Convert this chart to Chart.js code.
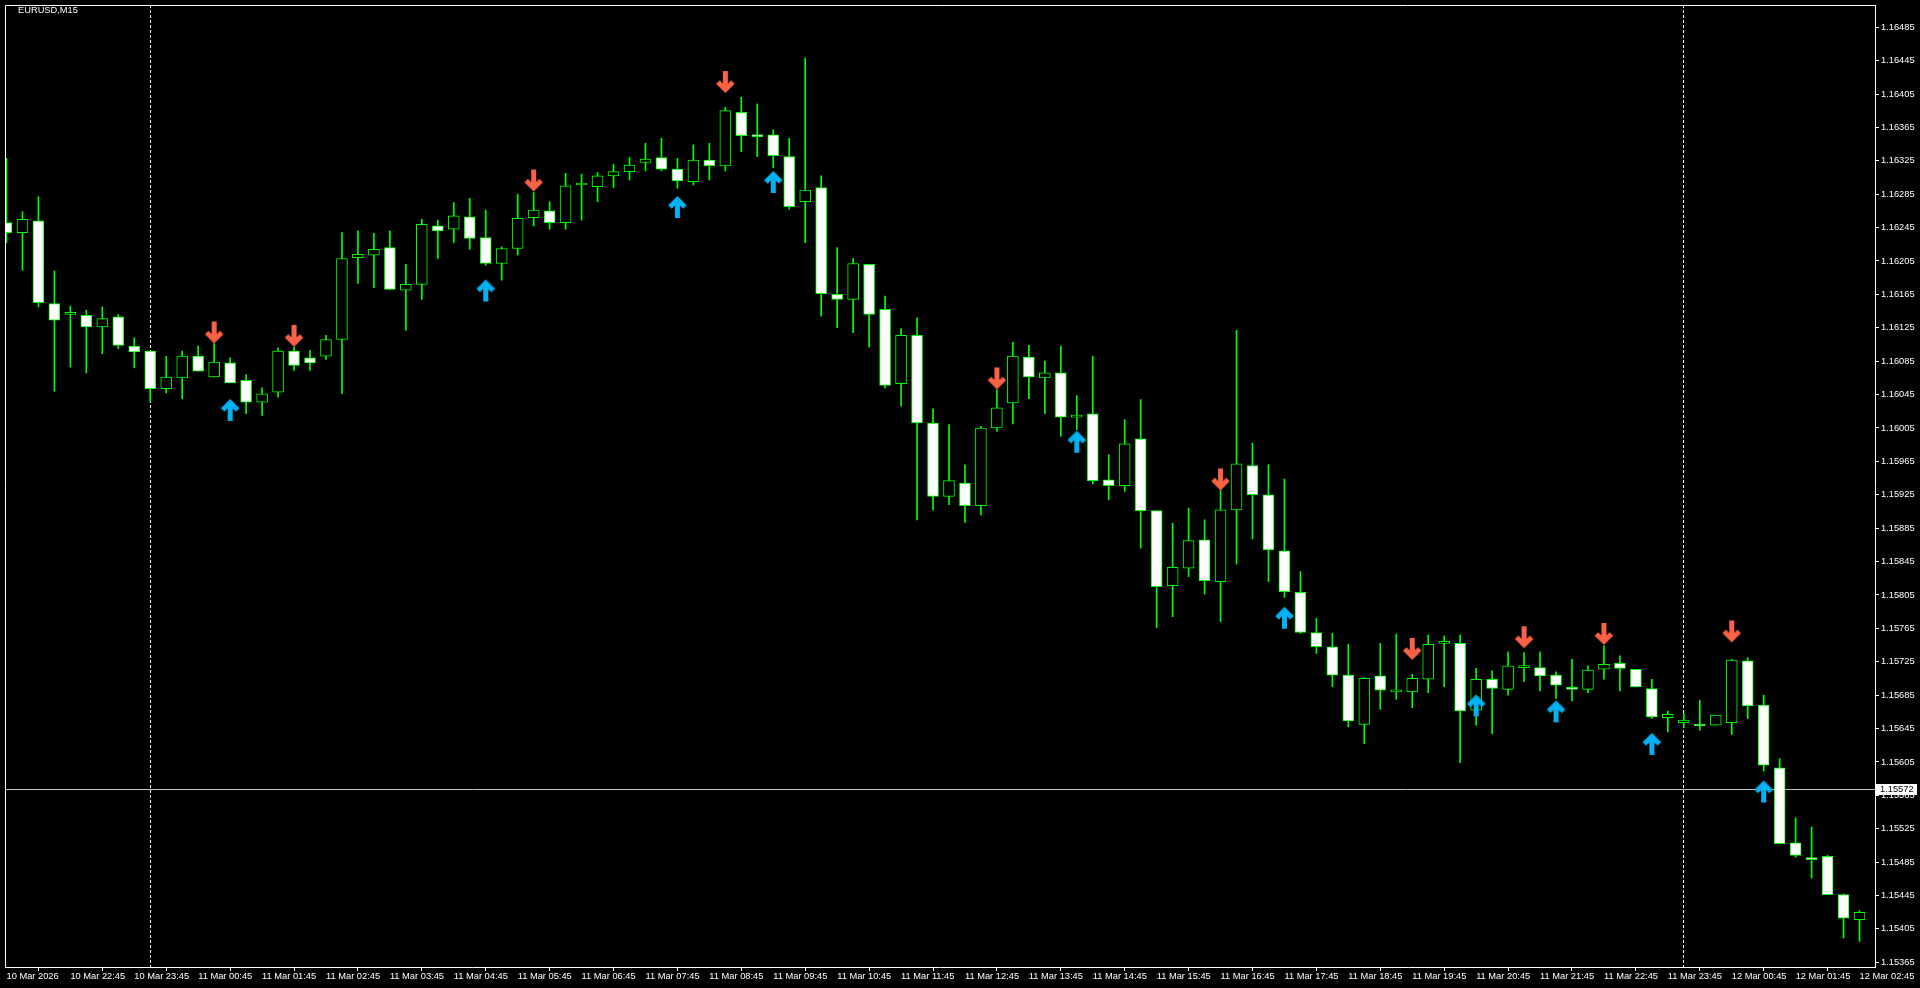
<!DOCTYPE html>
<html>
<head>
<meta charset="utf-8">
<title>EURUSD,M15</title>
<script src="https://cdn.jsdelivr.net/npm/chart.js@4"></script>
<style>
html, body { margin: 0; padding: 0; background: #000; overflow: hidden; }
#wrap { width: 1920px; height: 988px; }
</style>
</head>
<body>
<div id="wrap"><canvas id="chart"></canvas></div>
<script>
// EURUSD M15 bars, 10 Mar 21:45 .. 12 Mar 02:45 (index 0..116)
const opens = [
  1.16251, 1.16239, 1.16253, 1.16154, 1.16141, 1.16140, 1.16126, 1.16138, 1.16103, 1.16097,
  1.16052, 1.16065, 1.16091, 1.16066, 1.16083, 1.16062, 1.16036, 1.16048, 1.16097, 1.16089,
  1.16091, 1.16111, 1.16209, 1.16212, 1.16221, 1.16170, 1.16177, 1.16247, 1.16243, 1.16258,
  1.16233, 1.16202, 1.16220, 1.16257, 1.16265, 1.16251, 1.16296, 1.16294, 1.16307, 1.16312,
  1.16323, 1.16329, 1.16315, 1.16300, 1.16326, 1.16319, 1.16383, 1.16356, 1.16356, 1.16330,
  1.16276, 1.16293, 1.16165, 1.16159, 1.16201, 1.16147, 1.16058, 1.16116, 1.16011, 1.15923,
  1.15939, 1.15912, 1.16005, 1.16035, 1.16090, 1.16065, 1.16071, 1.16018, 1.16022, 1.15943,
  1.15936, 1.15992, 1.15906, 1.15816, 1.15837, 1.15871, 1.15821, 1.15907, 1.15960, 1.15925,
  1.15858, 1.15808, 1.15760, 1.15743, 1.15709, 1.15650, 1.15708, 1.15689, 1.15689, 1.15704,
  1.15747, 1.15747, 1.15667, 1.15704, 1.15692, 1.15718, 1.15718, 1.15709, 1.15694, 1.15692,
  1.15716, 1.15723, 1.15716, 1.15693, 1.15658, 1.15652, 1.15650, 1.15649, 1.15652, 1.15726,
  1.15673, 1.15598, 1.15508, 1.15490, 1.15492, 1.15446, 1.15416
];
const highs = [
  1.16328, 1.16264, 1.16282, 1.16193, 1.16151, 1.16146, 1.16150, 1.16141, 1.16113, 1.16097,
  1.16091, 1.16097, 1.16103, 1.16106, 1.16089, 1.16069, 1.16053, 1.16101, 1.16102, 1.16098,
  1.16116, 1.16239, 1.16241, 1.16238, 1.16241, 1.16201, 1.16255, 1.16254, 1.16275, 1.16280,
  1.16266, 1.16222, 1.16285, 1.16287, 1.16276, 1.16310, 1.16309, 1.16311, 1.16321, 1.16329,
  1.16346, 1.16352, 1.16328, 1.16344, 1.16346, 1.16389, 1.16401, 1.16393, 1.16362, 1.16352,
  1.16448, 1.16307, 1.16221, 1.16208, 1.16201, 1.16163, 1.16124, 1.16137, 1.16028, 1.16009,
  1.15961, 1.16007, 1.16051, 1.16108, 1.16104, 1.16085, 1.16103, 1.16044, 1.16091, 1.15973,
  1.16015, 1.16039, 1.15906, 1.15891, 1.15909, 1.15895, 1.15931, 1.16122, 1.15987, 1.15961,
  1.15944, 1.15833, 1.15777, 1.15759, 1.15746, 1.15706, 1.15747, 1.15758, 1.15710, 1.15757,
  1.15756, 1.15757, 1.15717, 1.15714, 1.15737, 1.15736, 1.15737, 1.15713, 1.15728, 1.15720,
  1.15744, 1.15732, 1.15716, 1.15704, 1.15666, 1.15663, 1.15679, 1.15661, 1.15728, 1.15730,
  1.15685, 1.15609, 1.15538, 1.15527, 1.15493, 1.15447, 1.15427
];
const lows = [
  1.16227, 1.16194, 1.16150, 1.16049, 1.16078, 1.16071, 1.16094, 1.16100, 1.16077, 1.16036,
  1.16047, 1.16040, 1.16073, 1.16066, 1.16059, 1.16022, 1.16020, 1.16042, 1.16074, 1.16074,
  1.16087, 1.16046, 1.16178, 1.16173, 1.16171, 1.16122, 1.16159, 1.16208, 1.16227, 1.16219,
  1.16200, 1.16182, 1.16212, 1.16247, 1.16243, 1.16243, 1.16254, 1.16276, 1.16293, 1.16302,
  1.16313, 1.16313, 1.16292, 1.16296, 1.16302, 1.16313, 1.16336, 1.16330, 1.16317, 1.16267,
  1.16227, 1.16139, 1.16125, 1.16119, 1.16102, 1.16053, 1.16031, 1.15895, 1.15907, 1.15913,
  1.15892, 1.15901, 1.16001, 1.16010, 1.16040, 1.16022, 1.15995, 1.16003, 1.15938, 1.15919,
  1.15929, 1.15861, 1.15766, 1.15779, 1.15827, 1.15806, 1.15773, 1.15842, 1.15872, 1.15821,
  1.15802, 1.15759, 1.15735, 1.15695, 1.15647, 1.15627, 1.15668, 1.15680, 1.15670, 1.15688,
  1.15695, 1.15604, 1.15649, 1.15639, 1.15685, 1.15701, 1.15690, 1.15681, 1.15678, 1.15688,
  1.15704, 1.15690, 1.15695, 1.15657, 1.15641, 1.15646, 1.15643, 1.15649, 1.15638, 1.15657,
  1.15594, 1.15507, 1.15491, 1.15466, 1.15446, 1.15394, 1.15390
];
const closes = [
  1.16239, 1.16255, 1.16155, 1.16134, 1.16141, 1.16126, 1.16136, 1.16104, 1.16096, 1.16052,
  1.16066, 1.16091, 1.16073, 1.16084, 1.16059, 1.16036, 1.16046, 1.16097, 1.16080, 1.16083,
  1.16111, 1.16208, 1.16213, 1.16219, 1.16171, 1.16177, 1.16249, 1.16241, 1.16259, 1.16232,
  1.16202, 1.16220, 1.16256, 1.16266, 1.16251, 1.16295, 1.16296, 1.16307, 1.16312, 1.16320,
  1.16327, 1.16315, 1.16301, 1.16326, 1.16319, 1.16385, 1.16355, 1.16354, 1.16331, 1.16270,
  1.16290, 1.16166, 1.16159, 1.16202, 1.16141, 1.16056, 1.16116, 1.16011, 1.15923, 1.15942,
  1.15912, 1.16005, 1.16029, 1.16091, 1.16066, 1.16071, 1.16018, 1.16020, 1.15942, 1.15936,
  1.15986, 1.15906, 1.15815, 1.15838, 1.15870, 1.15822, 1.15907, 1.15962, 1.15925, 1.15859,
  1.15809, 1.15760, 1.15743, 1.15709, 1.15654, 1.15705, 1.15691, 1.15689, 1.15705, 1.15746,
  1.15747, 1.15666, 1.15704, 1.15693, 1.15720, 1.15718, 1.15708, 1.15697, 1.15692, 1.15715,
  1.15722, 1.15717, 1.15695, 1.15659, 1.15662, 1.15655, 1.15648, 1.15661, 1.15727, 1.15672,
  1.15601, 1.15507, 1.15493, 1.15488, 1.15446, 1.15418, 1.15425
];

// indicator arrows: bar index and arrow tip price
const sellBars = [13, 18, 33, 45, 62, 76, 88, 95, 100, 108];
const sellLevels = [1.16105, 1.16101, 1.16287, 1.16405, 1.16050, 1.15929, 1.15726, 1.15740, 1.15744, 1.15747];
const buyBars = [14, 30, 42, 48, 67, 80, 92, 97, 103, 110];
const buyLevels = [1.16041, 1.16184, 1.16284, 1.16314, 1.16003, 1.15792, 1.15687, 1.15680, 1.15641, 1.15584];

const tickBars = [0, 4, 8, 12, 16, 20, 24, 28, 32, 36, 40, 44, 48, 52, 56, 60, 64, 68, 72, 76,
  80, 84, 88, 92, 96, 100, 104, 108, 112, 116];
const tickLabels = ['10 Mar 2026', '10 Mar 22:45', '10 Mar 23:45', '11 Mar 00:45', '11 Mar 01:45',
  '11 Mar 02:45', '11 Mar 03:45', '11 Mar 04:45', '11 Mar 05:45', '11 Mar 06:45', '11 Mar 07:45',
  '11 Mar 08:45', '11 Mar 09:45', '11 Mar 10:45', '11 Mar 11:45', '11 Mar 12:45', '11 Mar 13:45',
  '11 Mar 14:45', '11 Mar 15:45', '11 Mar 16:45', '11 Mar 17:45', '11 Mar 18:45', '11 Mar 19:45',
  '11 Mar 20:45', '11 Mar 21:45', '11 Mar 22:45', '11 Mar 23:45', '12 Mar 00:45', '12 Mar 01:45',
  '12 Mar 02:45'];
const priceTicks = [1.15365, 1.15405, 1.15445, 1.15485, 1.15525, 1.15565, 1.15605, 1.15645,
  1.15685, 1.15725, 1.15765, 1.15805, 1.15845, 1.15885, 1.15925, 1.15965, 1.16005, 1.16045,
  1.16085, 1.16125, 1.16165, 1.16205, 1.16245, 1.16285, 1.16325, 1.16365, 1.16405, 1.16445, 1.16485];
const bidPrice = 1.15572;
const separatorBars = [9, 105];

const FONT = { family: 'Liberation Sans', size: 9.3 };
const GREEN = '#00ff00';

function makeArrow(color, down) {
  const c = document.createElement('canvas');
  c.width = 21; c.height = 50;
  const g = c.getContext('2d');
  g.strokeStyle = color;
  g.lineWidth = 5;
  g.lineJoin = 'miter';
  g.translate(10.5, 25);
  if (!down) g.scale(1, -1);
  g.beginPath();
  g.moveTo(0, -23); g.lineTo(0, -5);
  g.moveTo(-7.5, -12); g.lineTo(0, -4.5); g.lineTo(7.5, -12);
  g.stroke();
  return c;
}

const idx = opens.map((_, i) => i);
const bodies = idx.map(i => ({ x: i, y: [opens[i], closes[i]] }));
const wicks = idx.map(i => ({ x: i, y: [lows[i], highs[i]] }));
const bodyFill = idx.map(i => closes[i] >= opens[i] ? '#000000' : '#ffffff');

const chartFrame = {
  id: 'chartFrame',
  beforeDatasetsDraw(chart) {
    const { ctx, chartArea: a, scales: { x, y } } = chart;
    ctx.save();
    ctx.lineWidth = 1;
    ctx.strokeStyle = '#c0c0c0';
    const by = Math.round(y.getPixelForValue(bidPrice)) + 0.5;
    ctx.beginPath(); ctx.moveTo(a.left, by); ctx.lineTo(a.right, by); ctx.stroke();
    ctx.strokeStyle = '#ffffff';
    ctx.setLineDash([3, 2]);
    separatorBars.forEach(i => {
      const px = Math.floor(x.getPixelForValue(i)) + 0.5;
      ctx.beginPath(); ctx.moveTo(px, a.top); ctx.lineTo(px, a.bottom); ctx.stroke();
    });
    ctx.restore();
  },
  afterDraw(chart) {
    const { ctx, chartArea: a, scales: { y } } = chart;
    ctx.save();
    ctx.strokeStyle = '#ffffff';
    ctx.lineWidth = 1;
    ctx.beginPath();
    ctx.moveTo(a.left + 0.5, a.bottom); ctx.lineTo(a.left + 0.5, a.top + 0.5); ctx.lineTo(a.right, a.top + 0.5);
    ctx.stroke();
    ctx.font = FONT.size + 'px ' + FONT.family;
    ctx.fillStyle = '#ffffff';
    ctx.textBaseline = 'middle';
    ctx.fillText('EURUSD,M15', 18, 10.5);
    const by = Math.round(y.getPixelForValue(bidPrice));
    ctx.fillRect(a.right + 1, by - 5, 41, 11);
    ctx.fillStyle = '#000000';
    ctx.fillText(bidPrice.toFixed(5), a.right + 5, by + 0.5);
    ctx.restore();
  }
};

new Chart(document.getElementById('chart'), {
  type: 'bar',
  data: {
    datasets: [
      {
        label: 'wick',
        data: wicks,
        backgroundColor: GREEN,
        borderWidth: 0,
        barThickness: 1,
        grouped: false,
        order: 3
      },
      {
        label: 'body',
        data: bodies,
        backgroundColor: bodyFill,
        borderColor: GREEN,
        borderWidth: 1,
        borderSkipped: false,
        barThickness: 11,
        minBarLength: 2,
        grouped: false,
        order: 2
      },
      {
        type: 'scatter',
        label: 'sell',
        data: sellBars.map((b, k) => ({ x: b, y: sellLevels[k] })),
        pointStyle: makeArrow('#fa6246', true),
        order: 1
      },
      {
        type: 'scatter',
        label: 'buy',
        data: buyBars.map((b, k) => ({ x: b, y: buyLevels[k] })),
        pointStyle: makeArrow('#00b2f2', false),
        order: 1
      }
    ]
  },
  options: {
    responsive: true,
    maintainAspectRatio: false,
    animation: false,
    events: [],
    layout: { padding: { left: 2, top: 2, right: 0, bottom: 0 } },
    plugins: { legend: { display: false }, tooltip: { enabled: false } },
    scales: {
      x: {
        type: 'linear',
        offset: false,
        min: -0.09375,
        max: 116.96875,
        grid: { drawOnChartArea: false, color: '#ffffff', tickLength: 4 },
        border: { color: '#ffffff' },
        ticks: {
          color: '#ffffff',
          font: FONT,
          align: 'start',
          padding: 0,
          maxRotation: 0,
          minRotation: 0,
          autoSkip: false,
          callback: v => tickLabels[tickBars.indexOf(v)]
        },
        afterBuildTicks: s => { s.ticks = tickBars.map(v => ({ value: v })); },
        afterFit: s => { s.height = 21; s.paddingLeft = 0; s.paddingRight = 0; }
      },
      y: {
        type: 'linear',
        position: 'right',
        min: 1.153594,
        max: 1.165116,
        grid: { drawOnChartArea: false, color: '#ffffff', tickLength: 4 },
        border: { color: '#ffffff' },
        ticks: {
          color: '#ffffff',
          font: FONT,
          padding: 2,
          callback: v => v.toFixed(5)
        },
        afterBuildTicks: s => { s.ticks = priceTicks.map(v => ({ value: v })); },
        afterFit: s => { s.width = 45; s.paddingTop = 0; s.paddingBottom = 0; }
      }
    }
  },
  plugins: [chartFrame]
});
</script>
</body>
</html>
